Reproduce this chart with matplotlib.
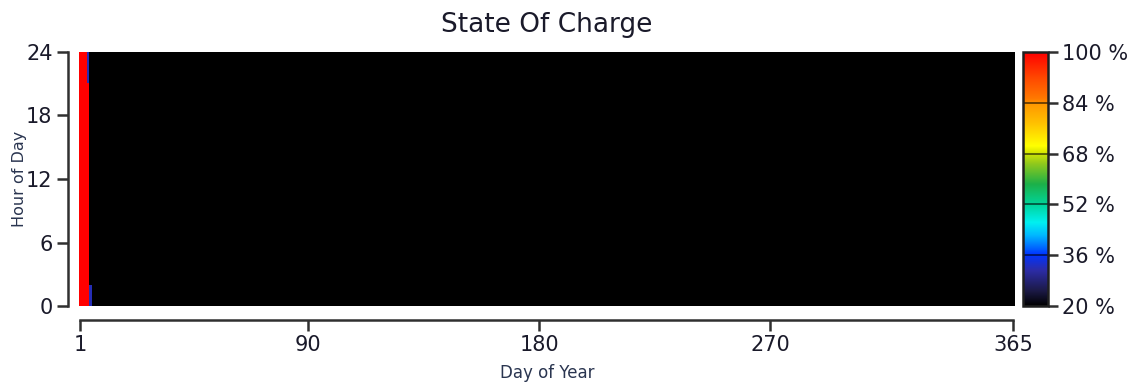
import numpy as np
import matplotlib
matplotlib.use("Agg")
import matplotlib.pyplot as plt
from matplotlib.colors import LinearSegmentedColormap

# Hourly battery state of charge (%), 24 hours x 365 days
n_days = 365
n_hours = 24
min_soc = 20.0            # battery sits at its minimum level after the first days
full_days = [1, 2, 3, 4]  # days held at full charge
full_soc = 100.0
# partially charged hours at the end of the charged period: (day, hour, soc)
partial_cells = [(4, 21, 32.0), (4, 22, 32.0), (4, 23, 32.0),
                 (5, 0, 32.0), (5, 1, 32.0)]

soc = np.full((n_hours, n_days), min_soc)
for d in full_days:
    soc[:, d - 1] = full_soc
for d, h, v in partial_cells:
    soc[h, d - 1] = v

x_ticks = [1, 90, 180, 270, 365]
y_ticks = [0, 6, 12, 18, 24]
cbar_ticks = [20, 36, 52, 68, 84, 100]

# Colour scale: black/navy at the minimum up through blue, cyan, green, yellow, orange, red
stops = [
    (0.00, "#000000"),
    (0.06, "#1c1a48"),
    (0.14, "#2c2ca8"),
    (0.20, "#0034ff"),
    (0.28, "#00b8ff"),
    (0.33, "#00f0f0"),
    (0.40, "#00d49a"),
    (0.48, "#1cb048"),
    (0.56, "#90c81c"),
    (0.61, "#e0ec00"),
    (0.63, "#ffff00"),
    (0.72, "#ffc000"),
    (0.80, "#ff9400"),
    (0.82, "#ff7800"),
    (0.90, "#ff4800"),
    (1.00, "#ff0000"),
]
cmap = LinearSegmentedColormap.from_list("soc", stops)

text_color = "#1a1a2a"
label_color = "#2a3550"
line_color = "#303030"
tick_size = 15

fig = plt.figure(figsize=(11.44, 3.87), dpi=100)
ax = fig.add_axes([0.069, 0.209, 0.818, 0.657])

ax.imshow(soc, cmap=cmap, vmin=20, vmax=100, aspect="auto", origin="lower",
          extent=[0.5, n_days + 0.5, 0, 24], interpolation="nearest")
ax.set_xlim(0.5, n_days + 0.5)
ax.set_ylim(0, 24)

for s in ["top", "right"]:
    ax.spines[s].set_visible(False)
ax.spines["left"].set_position(("outward", 8))
ax.spines["bottom"].set_position(("outward", 10))
ax.spines["left"].set_bounds(0, 24)
ax.spines["bottom"].set_bounds(1, 365)
for s in ["left", "bottom"]:
    ax.spines[s].set_color(line_color)
    ax.spines[s].set_linewidth(1.8)

ax.set_xticks(x_ticks)
ax.set_yticks(y_ticks)
ax.tick_params(axis="both", length=8, width=1.8, color=line_color,
               labelsize=tick_size, labelcolor=text_color)
ax.tick_params(axis="x", pad=3)
ax.tick_params(axis="y", pad=3)

ax.set_xlabel("Day of Year", fontsize=12, color=label_color, labelpad=6)
ax.set_ylabel("Hour of Day", fontsize=11.5, color=label_color, labelpad=-1)
ax.set_title("State Of Charge", fontsize=19, color=text_color, pad=14)

# Colour bar
cax = fig.add_axes([0.894, 0.209, 0.022, 0.657])
sm = plt.cm.ScalarMappable(cmap=cmap, norm=plt.Normalize(20, 100))
cbar = fig.colorbar(sm, cax=cax, ticks=cbar_ticks)
cbar.set_ticklabels([f"{t} %" for t in cbar_ticks])
cbar.outline.set_edgecolor("#202020")
cbar.outline.set_linewidth(1.8)
cax.tick_params(length=7, width=1.8, color=line_color, labelsize=tick_size,
                labelcolor=text_color, pad=3)
for t in cbar_ticks[1:-1]:
    cax.axhline(t, color="#000000", alpha=0.55, lw=1.4)

fig.savefig("out.png", dpi=100)
